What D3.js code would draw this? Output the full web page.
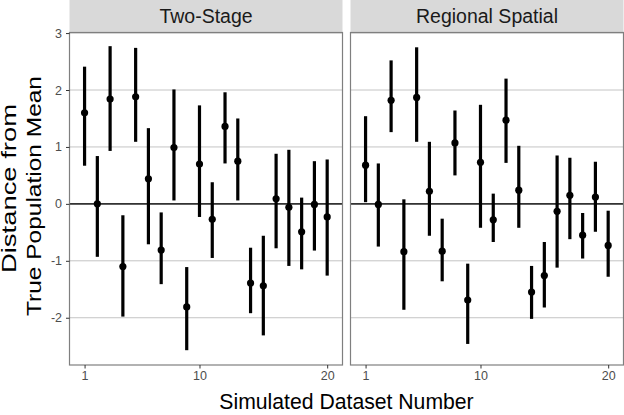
<!DOCTYPE html>
<html lang="en">
<head>
<meta charset="UTF-8">
<title>Distance from True Population Mean</title>
<script src="https://d3js.org/d3.v7.min.js"></script>
<style>
    body { margin: 0; background: #fff; }
    svg { display: block; }
    text { font-family: "Liberation Sans", Arial, sans-serif; }
</style>
</head>
<body>
<script>
    // data: estimate, lower, upper for datasets 1..20
    const datasets = d3.range(1, 21)
    const panels = ["Two-Stage", "Regional Spatial"]

    const twoStageEst   = [1.60, 0.00, 1.84, -1.10, 1.88, 0.44, -0.81, 0.99, -1.81, 0.70, -0.27, 1.36, 0.75, -1.39, -1.44, 0.09, -0.06, -0.49, -0.01, -0.23]
    const twoStageLow   = [0.67, -0.93, 0.93, -1.98, 1.09, -0.71, -1.41, 0.06, -2.57, -0.23, -0.95, 0.71, 0.06, -1.92, -2.31, -0.78, -1.09, -1.15, -0.82, -1.26]
    const twoStageHigh  = [2.41, 0.84, 2.77, -0.20, 2.74, 1.33, -0.15, 2.01, -1.11, 1.73, 0.38, 1.96, 1.50, -0.77, -0.56, 0.88, 0.95, 0.11, 0.75, 0.78]

    const spatialEst    = [0.68, -0.01, 1.82, -0.84, 1.87, 0.22, -0.83, 1.07, -1.69, 0.73, -0.28, 1.47, 0.24, -1.55, -1.26, -0.13, 0.15, -0.55, 0.12, -0.73]
    const spatialLow    = [0.03, -0.75, 1.26, -1.86, 1.09, -0.56, -1.36, 0.50, -2.46, -0.42, -0.67, 0.72, -0.42, -2.02, -1.82, -1.12, -0.62, -0.96, -0.49, -1.28]
    const spatialHigh   = [1.54, 0.71, 2.52, 0.08, 2.75, 1.09, -0.26, 1.64, -1.05, 1.74, 0.18, 2.20, 1.02, -1.09, -0.67, 0.85, 0.81, -0.16, 0.74, -0.12]

    const yTicks = [-2, -1, 0, 1, 2, 3]
    const xTicks = [1, 10, 20]

    const series = [
        datasets.map((d, i) => ({x: d, est: twoStageEst[i], lo: twoStageLow[i], hi: twoStageHigh[i]})),
        datasets.map((d, i) => ({x: d, est: spatialEst[i], lo: spatialLow[i], hi: spatialHigh[i]}))
    ]

    const width = 624, height = 415
    const svg = d3.select("body").append("svg")
        .attr("width", width).attr("height", height)

    const panelLeft = [69.5, 350.5]
    const panelW = 273
    const stripTop = 0, stripH = 32
    const plotTop = 32.5, plotBottom = 365

    const y = d3.scaleLinear().domain([-2.83, 3.01]).range([plotBottom, plotTop])
    const fmt = d => String(d)   // plain hyphen minus, no decimals

    panels.forEach((name, p) => {
        const x = d3.scaleLinear().domain([-0.18, 21.2]).range([panelLeft[p], panelLeft[p] + panelW])
        const g = svg.append("g")

        // strip
        g.append("rect")
            .attr("x", panelLeft[p]).attr("y", stripTop)
            .attr("width", panelW).attr("height", stripH)
            .attr("fill", "#d9d9d9")
        g.append("text")
            .attr("x", panelLeft[p] + panelW / 2).attr("y", 23)
            .attr("text-anchor", "middle")
            .attr("font-size", 19.5)
            .attr("fill", "#1a1a1a")
            .text(name)

        // gridlines
        g.selectAll(".grid").data(yTicks).join("line")
            .attr("x1", panelLeft[p]).attr("x2", panelLeft[p] + panelW)
            .attr("y1", d => y(d)).attr("y2", d => y(d))
            .attr("stroke", "#c4c4c4").attr("stroke-width", 1)

        // zero reference
        g.append("line")
            .attr("x1", panelLeft[p]).attr("x2", panelLeft[p] + panelW)
            .attr("y1", y(0)).attr("y2", y(0))
            .attr("stroke", "#333").attr("stroke-width", 1.6)

        // panel border
        g.append("rect")
            .attr("x", panelLeft[p]).attr("y", plotTop)
            .attr("width", panelW).attr("height", plotBottom - plotTop)
            .attr("fill", "none").attr("stroke", "#7f7f7f").attr("stroke-width", 1.2)

        // error bars and points
        g.selectAll(".bar").data(series[p]).join("line")
            .attr("x1", d => x(d.x)).attr("x2", d => x(d.x))
            .attr("y1", d => y(d.lo)).attr("y2", d => y(d.hi))
            .attr("stroke", "#000").attr("stroke-width", 3.2)
        g.selectAll(".pt").data(series[p]).join("circle")
            .attr("cx", d => x(d.x)).attr("cy", d => y(d.est))
            .attr("r", 3.6).attr("fill", "#000")

        // x axis
        const xAxis = g.append("g")
            .attr("transform", `translate(0,${plotBottom})`)
            .call(d3.axisBottom(x).tickValues(xTicks).tickFormat(fmt).tickSize(3.5).tickPadding(3))
        xAxis.select(".domain").remove()
        xAxis.selectAll("line").attr("stroke", "#333")
        xAxis.selectAll("text").attr("font-size", 12.5).attr("fill", "#4d4d4d")
            .attr("font-family", "Liberation Sans, Arial, sans-serif")

        if (p === 0) {
            const yAxis = g.append("g")
                .attr("transform", `translate(${panelLeft[0]},0)`)
                .call(d3.axisLeft(y).tickValues(yTicks).tickFormat(fmt).tickSize(3.5).tickPadding(4))
            yAxis.select(".domain").remove()
            yAxis.selectAll("line").attr("stroke", "#333")
            yAxis.selectAll("text").attr("font-size", 12.5).attr("fill", "#4d4d4d")
                .attr("font-family", "Liberation Sans, Arial, sans-serif")
        }
    })

    // axis titles
    svg.append("text")
        .attr("x", (panelLeft[0] + panelLeft[1] + panelW) / 2).attr("y", 409)
        .attr("text-anchor", "middle").attr("font-size", 21.2).attr("fill", "#000")
        .text("Simulated Dataset Number")

    // y title: two lines, stretched a little along their length like the reference
    svg.append("text")
        .attr("transform", "translate(16,188.5) rotate(-90)")
        .attr("text-anchor", "middle").attr("font-size", 21).attr("fill", "#000")
        .attr("textLength", 169).attr("lengthAdjust", "spacingAndGlyphs")
        .text("Distance from")
    svg.append("text")
        .attr("transform", "translate(40.5,196) rotate(-90)")
        .attr("text-anchor", "middle").attr("font-size", 21).attr("fill", "#000")
        .attr("textLength", 240).attr("lengthAdjust", "spacingAndGlyphs")
        .text("True Population Mean")
</script>
</body>
</html>
